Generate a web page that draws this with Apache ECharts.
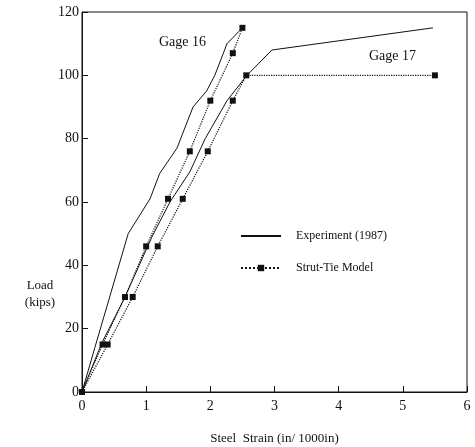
<!DOCTYPE html>
<html>
<head>
<meta charset="utf-8">
<script src="https://cdn.jsdelivr.net/npm/echarts@6/dist/echarts.min.js"></script>
<style>
  html, body { margin: 0; padding: 0; background: #fff; }
  #main { width: 475px; height: 447px; }
</style>
</head>
<body>
<div id="main"></div>
<script>
// experiment curves [strain, load]
var expGage16 = [[0, 0], [0.2, 14], [0.72, 50], [1.06, 61], [1.21, 69], [1.48, 77], [1.73, 90], [1.94, 95], [2.07, 100], [2.26, 110], [2.5, 115]];
var expGage17 = [[0, 0], [0.31, 15.5], [0.67, 30], [1.09, 49], [1.37, 60], [1.68, 69.5], [1.92, 80], [2.26, 92], [2.57, 100], [2.96, 108], [5.47, 115]];
// strut-tie model points
var modelGage16 = [[0, 0], [0.32, 15], [0.67, 30], [1.0, 46], [1.34, 61], [1.68, 76], [2.0, 92], [2.35, 107], [2.5, 115]];
var modelGage17 = [[0, 0], [0.4, 15], [0.79, 30], [1.18, 46], [1.57, 61], [1.96, 76], [2.35, 92], [2.56, 100], [5.5, 100]];

var font = "Liberation Serif";
var myChart = echarts.init(document.getElementById("main"));

function expSeries(data) {
  return {
    name: "Experiment (1987)",
    type: "line",
    data: data,
    symbol: "none",
    lineStyle: { color: "#111", width: 1 },
    itemStyle: { color: "#111" },
    animation: false
  };
}
function modelSeries(data) {
  return {
    name: "Strut-Tie Model",
    type: "line",
    data: data,
    symbol: "rect",
    symbolSize: 6,
    lineStyle: { color: "#111", width: 1.2, type: "dotted" },
    itemStyle: { color: "#111" },
    animation: false
  };
}

var option = {
  backgroundColor: "#fff",
  textStyle: { fontFamily: font, color: "#111" },
  grid: { left: 82, right: 8, top: 12, bottom: 55, outerBoundsMode: "none", containLabel: false },
  xAxis: {
    type: "value",
    min: 0, max: 6, interval: 1,
    name: "Steel  Strain (in/ 1000in)",
    nameLocation: "middle",
    nameGap: 40,
    nameTextStyle: { fontFamily: font, fontSize: 13, color: "#111" },
    axisLine: { show: true, lineStyle: { color: "#111", width: 1 } },
    axisTick: { inside: true, length: 6, lineStyle: { color: "#111" } },
    axisLabel: { fontFamily: font, fontSize: 14, color: "#111", margin: 7 },
    splitLine: { show: false }
  },
  yAxis: {
    type: "value",
    min: 0, max: 120, interval: 20,
    axisLine: { show: true, lineStyle: { color: "#111", width: 1 } },
    axisTick: { inside: true, length: 6, lineStyle: { color: "#111" } },
    axisLabel: { fontFamily: font, fontSize: 14, color: "#111", margin: 3 },
    splitLine: { show: false }
  },
  legend: {
    orient: "vertical",
    left: 235,
    top: 225,
    itemGap: 20,
    itemWidth: 40,
    itemHeight: 8,
    textStyle: { fontFamily: font, fontSize: 12, color: "#111", padding: [0, 0, 0, 10] },
    data: [
      { name: "Experiment (1987)", itemStyle: { opacity: 0 } },
      "Strut-Tie Model"
    ]
  },
  graphic: [
    { type: "rect", shape: { x: 82, y: 12, width: 385, height: 380 },
      style: { fill: "none", stroke: "#111", lineWidth: 1 }, silent: true },
    { type: "text", left: 159, top: 35,
      style: { text: "Gage 16", font: "14px " + font, fill: "#111" } },
    { type: "text", left: 369, top: 49,
      style: { text: "Gage 17", font: "14px " + font, fill: "#111" } },
    { type: "text", x: 40, y: 277,
      style: { text: "Load\n(kips)", font: "13px " + font, fill: "#111", align: "center", lineHeight: 17 } }
  ],
  series: [
    expSeries(expGage16),
    expSeries(expGage17),
    modelSeries(modelGage16),
    modelSeries(modelGage17)
  ]
};
myChart.setOption(option);
</script>
</body>
</html>
